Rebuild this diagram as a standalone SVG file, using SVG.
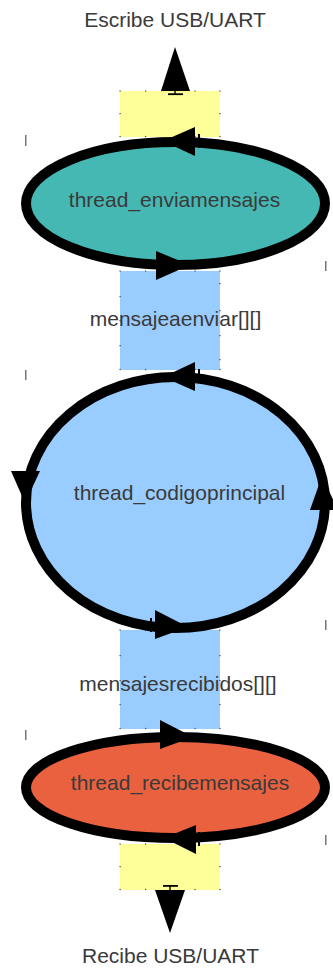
<svg xmlns="http://www.w3.org/2000/svg" width="333" height="969" viewBox="0 0 333 969">
  <style>
    .lbl { font-family: "Liberation Sans", Arial, sans-serif; font-size: 21px; fill: #3a3a3a; text-anchor: middle; }
    .ring { stroke: #000; stroke-width: 10; }
    .head { fill: #000; }
    .buf-y { fill: #FFFF99; }
    .buf-b { fill: #99CCFF; }
    .dot { fill: #444; }
    .tick { fill: #777; }
  </style>
  <defs>
    <!-- corner/edge handle dots of a 100-wide buffer box -->
    <g id="dots-top">
      <rect class="dot" x="119.5" y="-0.6" width="1.2" height="1.2"/>
      <rect class="dot" x="145" y="-0.6" width="1.2" height="1.2"/>
      <rect class="dot" x="194.5" y="-0.6" width="1.2" height="1.2"/>
      <rect class="dot" x="219.3" y="-0.6" width="1.2" height="1.2"/>
    </g>
  </defs>

  <!-- buffers -->
  <g id="buf-escribe">
    <rect class="buf-y" x="120" y="91" width="100" height="46"/>
    <use href="#dots-top" y="91"/>
    <use href="#dots-top" y="136.5"/>
    <rect class="dot" x="119.5" y="113" width="1.2" height="1.2"/>
    <rect class="dot" x="219.3" y="113" width="1.2" height="1.2"/>
  </g>
  <g id="buf-mensajeaenviar">
    <rect class="buf-b" x="120" y="271" width="100" height="99"/>
    <use href="#dots-top" y="271"/>
    <use href="#dots-top" y="369.5"/>
    <rect class="dot" x="119.5" y="296" width="1.2" height="1.2"/>
    <rect class="dot" x="119.5" y="320" width="1.2" height="1.2"/>
    <rect class="dot" x="119.5" y="345" width="1.2" height="1.2"/>
    <rect class="dot" x="219.3" y="283" width="1.2" height="1.2"/>
    <rect class="dot" x="219.3" y="310" width="1.2" height="1.2"/>
    <rect class="dot" x="219.3" y="335" width="1.2" height="1.2"/>
    <rect class="dot" x="219.3" y="359" width="1.2" height="1.2"/>
    <text class="lbl" x="175.5" y="326">mensajeaenviar[][]</text>
  </g>
  <g id="buf-mensajesrecibidos">
    <rect class="buf-b" x="120" y="630" width="100" height="99"/>
    <use href="#dots-top" y="630"/>
    <use href="#dots-top" y="728.5"/>
    <rect class="dot" x="119.5" y="655" width="1.2" height="1.2"/>
    <rect class="dot" x="119.5" y="680" width="1.2" height="1.2"/>
    <rect class="dot" x="119.5" y="704" width="1.2" height="1.2"/>
    <rect class="dot" x="219.3" y="655" width="1.2" height="1.2"/>
    <rect class="dot" x="219.3" y="680" width="1.2" height="1.2"/>
    <rect class="dot" x="219.3" y="704" width="1.2" height="1.2"/>
    <text class="lbl" x="178" y="690.5">mensajesrecibidos[][]</text>
  </g>
  <g id="buf-recibe">
    <rect class="buf-y" x="120" y="844" width="100" height="46"/>
    <use href="#dots-top" y="844"/>
    <use href="#dots-top" y="889.5"/>
    <rect class="dot" x="119.5" y="866" width="1.2" height="1.2"/>
    <rect class="dot" x="219.3" y="866" width="1.2" height="1.2"/>
  </g>

  <!-- threads -->
  <g id="thread_enviamensajes">
    <ellipse class="ring" cx="175.5" cy="203.5" rx="149.5" ry="61.5" fill="#46B8B4"/>
    <polygon class="head" points="163,141 195,127 195,156"/>
    <rect class="head" x="198" y="134" width="2" height="14"/>
    <polygon class="head" points="190,265 156,251 156,280"/>
    <text class="lbl" x="174.5" y="207">thread_enviamensajes</text>
  </g>
  <g id="thread_codigoprincipal">
    <ellipse class="ring" cx="175.5" cy="502.5" rx="149.5" ry="125.5" fill="#99CCFF"/>
    <polygon class="head" points="163,377 195,362 195,391"/>
    <rect class="head" x="198" y="369" width="2" height="14"/>
    <polygon class="head" points="25,503 11,471 40,471"/>
    <polygon class="head" points="322,476 310,510 338,510"/>
    <polygon class="head" points="188,627 155,610 155,639"/>
    <rect class="head" x="150" y="618" width="2" height="14"/>
    <text class="lbl" x="179.5" y="500">thread_codigoprincipal</text>
  </g>
  <g id="thread_recibemensajes">
    <ellipse class="ring" cx="175.5" cy="787.5" rx="149.5" ry="50.5" fill="#EA613F"/>
    <polygon class="head" points="193,737 160,720 160,749"/>
    <polygon class="head" points="164,838 196,825 196,854"/>
    <rect class="head" x="198" y="832" width="2" height="14"/>
    <text class="lbl" x="180" y="790">thread_recibemensajes</text>
  </g>

  <!-- external endpoints -->
  <g id="out-escribe">
    <text class="lbl" x="175" y="27">Escribe USB/UART</text>
  </g>
  <g id="in-recibe">
    <text class="lbl" x="170.5" y="963">Recibe USB/UART</text>
  </g>

  <!-- connectors -->
  <g id="connectors">
    <polygon class="head" points="175,47 161,91 190,91"/>
    <rect class="head" x="174.3" y="90" width="1.4" height="5"/>
    <rect class="head" x="168" y="93.3" width="15" height="1.8"/>
    <polygon class="head" points="170,933 155,890 185,890"/>
    <rect class="head" x="169.3" y="885" width="1.4" height="5"/>
    <rect class="head" x="163" y="885" width="15" height="1.8"/>
  </g>

  <!-- small margin ticks -->
  <g id="ticks">
    <rect class="tick" x="25" y="135" width="1.5" height="11"/>
    <rect class="tick" x="25" y="370" width="1.5" height="10"/>
    <rect class="tick" x="25" y="730" width="1.5" height="10"/>
    <rect class="tick" x="325" y="261" width="1.5" height="10"/>
    <rect class="tick" x="325" y="620" width="1.5" height="10"/>
    <rect class="tick" x="325" y="835" width="1.5" height="10"/>
  </g>
</svg>
